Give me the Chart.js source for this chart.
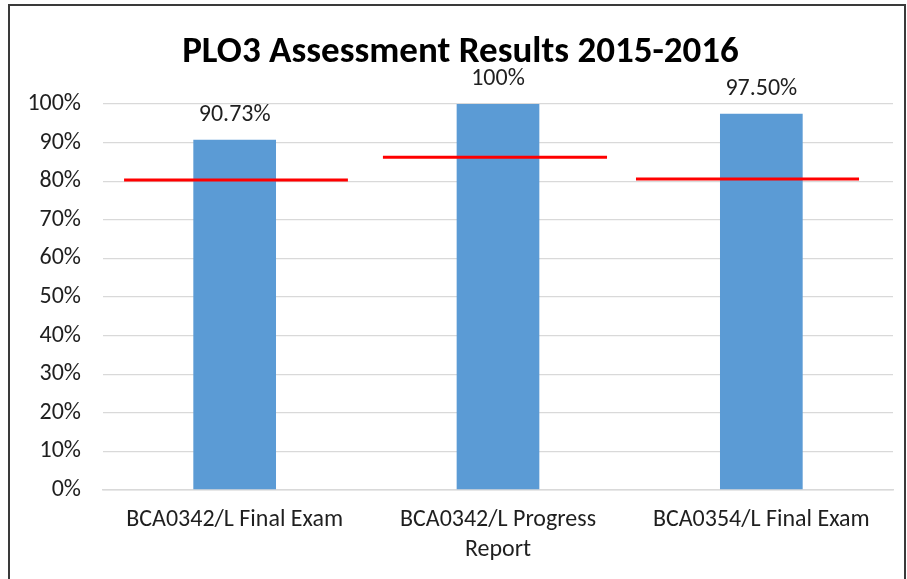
<!DOCTYPE html>
<html><head><meta charset="utf-8">
<script src="https://cdn.jsdelivr.net/npm/chart.js@4.4.0/dist/chart.umd.min.js"></script>
<style>
html,body{margin:0;padding:0;background:#fff;overflow:hidden;width:907px;height:579px}
#wrap{position:absolute;left:0;top:0;width:907px;height:579px}
#frame{position:absolute;left:8px;top:4px;width:898px;height:700px;border:2px solid #3a3a3a;box-sizing:border-box;pointer-events:none}
</style></head><body>
<div id="wrap"><canvas id="c" width="907" height="579"></canvas></div>
<div id="frame"></div>
<script>
// ---- data ----
const categories = [['BCA0342/L Final Exam'], ['BCA0342/L Progress', 'Report'], ['BCA0354/L Final Exam']];
const results = [90.73, 100, 97.5];
const resultLabels = ['90.73%', '100%', '97.50%'];
const targets = [80.3, 86.2, 80.6];
// horizontal span of each target line, in category units (category i spans i-0.5 .. i+0.5)
const targetFrom = [-0.42, 0.563, 1.524];
const targetTo = [0.43, 1.414, 2.371];
const yMin = 0, yMax = 100, yStep = 10;
const titleText = 'PLO3 Assessment Results 2015-2016';

// ---- fonts ----
const FAMILY = 'Carlito, Lato, "Open Sans", sans-serif';
function fit(text, target, weight, base) {
  const c = document.createElement('canvas').getContext('2d');
  c.font = weight + ' ' + base + 'px ' + FAMILY;
  const w = c.measureText(text).width;
  return base * target / w;
}
const labelSize = fit('BCA0342/L Final Exam', 217, 'normal', 24);
const titleSize = fit(titleText, 557, 'bold', 31);
const TEXT = '#1f1f1f';

const valueLabels = {
  id: 'valueLabels',
  afterDatasetsDraw(chart) {
    const meta = chart.getDatasetMeta(0);
    const ctx = chart.ctx;
    ctx.save();
    ctx.font = 'normal ' + labelSize + 'px ' + FAMILY;
    ctx.fillStyle = TEXT;
    ctx.textAlign = 'center';
    ctx.textBaseline = 'middle';
    meta.data.forEach((bar, i) => ctx.fillText(resultLabels[i], bar.x, bar.y - 25));
    ctx.restore();
  }
};

const targetSets = targets.map((t, i) => ({
  type: 'line',
  data: [{x: targetFrom[i], y: t}, {x: targetTo[i], y: t}],
  xAxisID: 'x2', yAxisID: 'y',
  borderColor: '#FF0000', borderWidth: 3, pointRadius: 0, fill: false,
  tension: 0, order: 1
}));

new Chart(document.getElementById('c'), {
  type: 'bar',
  data: {
    labels: categories,
    datasets: [
      {type: 'bar', data: results, backgroundColor: '#5B9BD5', borderWidth: 0, grouped: false,
       categoryPercentage: 1, barPercentage: 0.314, xAxisID: 'x', yAxisID: 'y', order: 2},
      ...targetSets
    ]
  },
  options: {
    responsive: false, animation: false, events: [],
    layout: {padding: {left: 28, right: 14, top: 0, bottom: 0}},
    plugins: {
      legend: {display: false}, tooltip: {enabled: false},
      title: {display: true, text: titleText, color: '#000',
        font: {family: FAMILY, size: titleSize, weight: 'bold', lineHeight: 1.2},
        padding: {top: 31, bottom: 104 - 31 - titleSize * 1.2}}
    },
    scales: {
      x: {type: 'category', position: 'bottom', offset: true,
        grid: {display: false, drawTicks: false},
        border: {display: true, color: '#D9D9D9', width: 1.5},
        ticks: {color: TEXT, padding: 15, maxRotation: 0, autoSkip: false,
          font: {family: FAMILY, size: labelSize, lineHeight: '30px'}},
        afterFit(s) { s.height = 89; }
      },
      x2: {type: 'linear', display: false, min: -0.5, max: 2.5, offset: false, grid: {offset: false}},
      y: {type: 'linear', min: yMin, max: yMax,
        grid: {color: '#D9D9D9', lineWidth: 1.3, drawTicks: false},
        border: {display: false},
        ticks: {stepSize: yStep, padding: 22, color: TEXT,
          font: {family: FAMILY, size: labelSize},
          callback: v => v + '%'},
        afterFit(s) { s.width = 75; }
      }
    }
  },
  plugins: [valueLabels]
});
</script>
</body></html>
